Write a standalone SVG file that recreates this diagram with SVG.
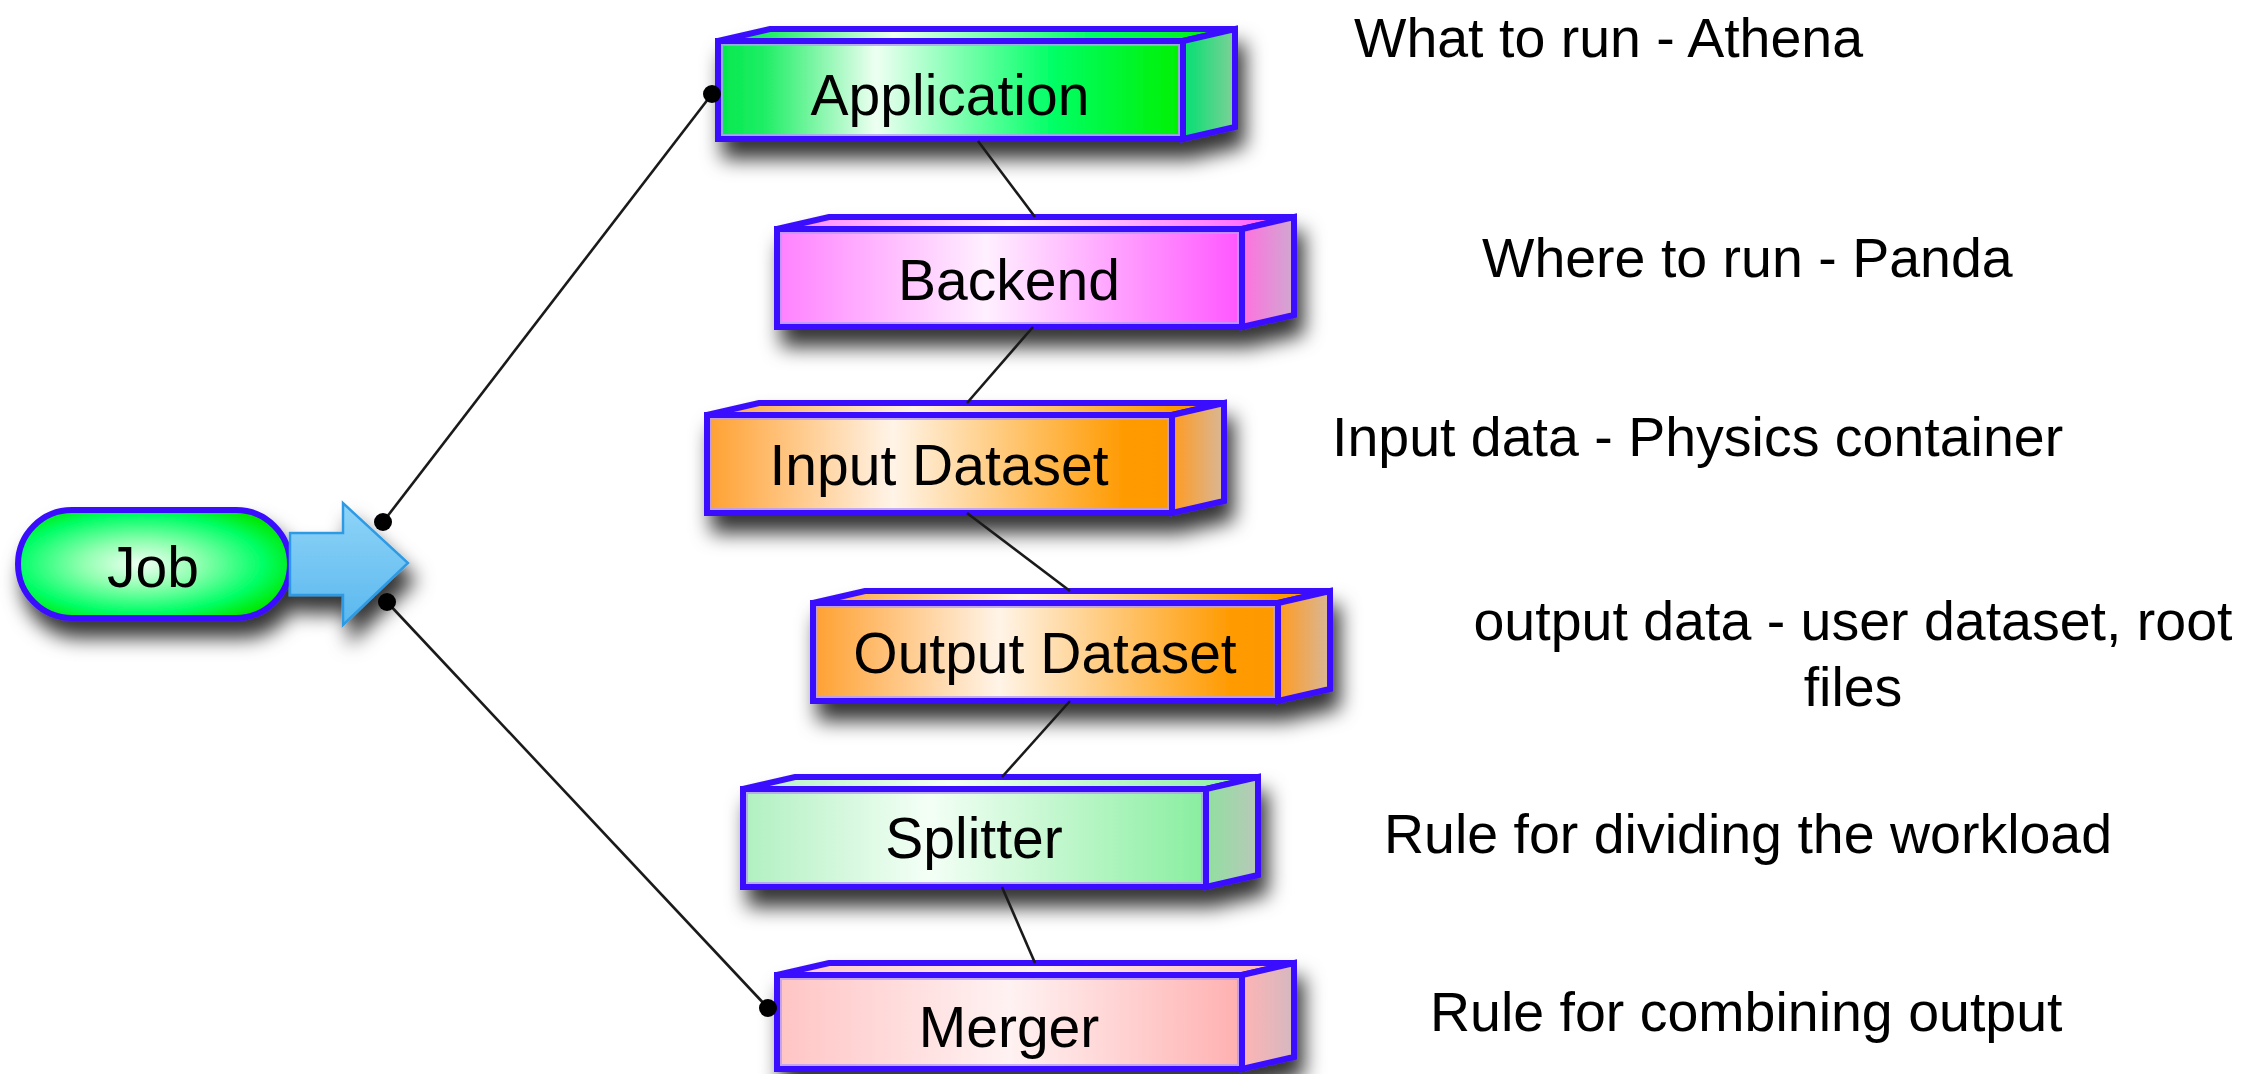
<svg xmlns="http://www.w3.org/2000/svg" width="2257" height="1074" viewBox="0 0 2257 1074">
<style>
.edge{stroke:#3a0cff;stroke-width:6;stroke-linejoin:miter}
.hl{fill:none;stroke:#b49cff;stroke-width:2;opacity:.8}
.lbl{font-family:"Liberation Sans",Arial,sans-serif;font-size:57px;fill:#000;text-anchor:middle}
.note{font-family:"Liberation Sans",Arial,sans-serif;font-size:55.5px;fill:#000}
.wire{stroke:#1a1a1a;stroke-width:2.6;fill:none}
.dot{fill:#000}
</style>
<defs>
<filter id="sh" x="-10%" y="-25%" width="130%" height="190%">
<feDropShadow dx="7" dy="17" stdDeviation="10" flood-color="#000" flood-opacity="0.8"/>
</filter>
<linearGradient id="gF" x1="0" y1="0" x2="1" y2="0">
<stop offset="0" stop-color="#00e84a"/><stop offset="0.1" stop-color="#20ee66"/><stop offset="0.34" stop-color="#eefff2"/><stop offset="0.72" stop-color="#00ff66"/><stop offset="1" stop-color="#00f000"/>
</linearGradient>
<linearGradient id="gS" x1="0" y1="0" x2="1" y2="0"><stop offset="0" stop-color="#00e070"/><stop offset="1" stop-color="#80d098"/></linearGradient>
<linearGradient id="mF" x1="0" y1="0" x2="1" y2="0">
<stop offset="0" stop-color="#ff80ff"/><stop offset="0.45" stop-color="#fff0ff"/><stop offset="1" stop-color="#ff55ff"/>
</linearGradient>
<linearGradient id="mS" x1="0" y1="0" x2="1" y2="0"><stop offset="0" stop-color="#ff70e0"/><stop offset="1" stop-color="#d0a8d0"/></linearGradient>
<linearGradient id="oF" x1="0" y1="0" x2="1" y2="0">
<stop offset="0" stop-color="#ffa030"/><stop offset="0.4" stop-color="#fff4e8"/><stop offset="0.9" stop-color="#ff9a00"/><stop offset="1" stop-color="#ff9900"/>
</linearGradient>
<linearGradient id="oS" x1="0" y1="0" x2="1" y2="0"><stop offset="0" stop-color="#ff9a20"/><stop offset="1" stop-color="#d8b898"/></linearGradient>
<linearGradient id="sF" x1="0" y1="0" x2="1" y2="0">
<stop offset="0" stop-color="#b0f0c0"/><stop offset="0.4" stop-color="#f4fff6"/><stop offset="1" stop-color="#88ee9f"/>
</linearGradient>
<linearGradient id="sS" x1="0" y1="0" x2="1" y2="0"><stop offset="0" stop-color="#90e0a0"/><stop offset="1" stop-color="#b8c8b8"/></linearGradient>
<linearGradient id="pF" x1="0" y1="0" x2="1" y2="0">
<stop offset="0" stop-color="#ffc4c4"/><stop offset="0.5" stop-color="#fff2f2"/><stop offset="1" stop-color="#ffb0b0"/>
</linearGradient>
<linearGradient id="pS" x1="0" y1="0" x2="1" y2="0"><stop offset="0" stop-color="#ffb4b4"/><stop offset="1" stop-color="#d4b8c0"/></linearGradient>
<radialGradient id="jobF" cx="0.45" cy="0.5" r="0.6">
<stop offset="0" stop-color="#f2fff4"/><stop offset="0.35" stop-color="#90ffb0"/><stop offset="0.75" stop-color="#00ff66"/><stop offset="1" stop-color="#00e800"/>
</radialGradient>
<linearGradient id="arF" x1="0" y1="0" x2="0" y2="1"><stop offset="0" stop-color="#8fd4f8"/><stop offset="1" stop-color="#5ab8ee"/></linearGradient>
</defs>
<rect width="2257" height="1074" fill="#fff"/>

<g id="job">
<g filter="url(#sh)">
<rect x="18" y="510" width="272" height="108" rx="54" fill="url(#jobF)" class="edge"/>
<polygon points="290,533 343,533 343,503 408,563 343,625 343,595 290,595" fill="url(#arF)" stroke="#2f9ae4" stroke-width="2.5"/>
</g>
<text class="lbl" x="153" y="587">Job</text>
</g>

<g id="application">
<g filter="url(#sh)">
<polygon points="718,41 770,29 1235,29 1183,41" fill="url(#gF)" class="edge"/>
<polygon points="1183,41 1235,29 1235,127 1183,139" fill="url(#gS)" class="edge"/>
<rect x="718" y="41" width="465" height="98" fill="url(#gF)" class="edge"/>
</g>
<rect x="722" y="45" width="457" height="90" class="hl"/>
<text class="lbl" x="950" y="115">Application</text>
</g>

<g id="backend">
<g filter="url(#sh)">
<polygon points="777,229 829,217 1294,217 1242,229" fill="url(#mF)" class="edge"/>
<polygon points="1242,229 1294,217 1294,315 1242,327" fill="url(#mS)" class="edge"/>
<rect x="777" y="229" width="465" height="98" fill="url(#mF)" class="edge"/>
</g>
<rect x="781" y="233" width="457" height="90" class="hl"/>
<text class="lbl" x="1009" y="300">Backend</text>
</g>

<g id="input-dataset">
<g filter="url(#sh)">
<polygon points="707,415 759,403 1224,403 1172,415" fill="url(#oF)" class="edge"/>
<polygon points="1172,415 1224,403 1224,501 1172,513" fill="url(#oS)" class="edge"/>
<rect x="707" y="415" width="465" height="98" fill="url(#oF)" class="edge"/>
</g>
<rect x="711" y="419" width="457" height="90" class="hl"/>
<text class="lbl" x="939" y="485">Input Dataset</text>
</g>

<g id="output-dataset">
<g filter="url(#sh)">
<polygon points="813,603 865,591 1330,591 1278,603" fill="url(#oF)" class="edge"/>
<polygon points="1278,603 1330,591 1330,689 1278,701" fill="url(#oS)" class="edge"/>
<rect x="813" y="603" width="465" height="98" fill="url(#oF)" class="edge"/>
</g>
<rect x="817" y="607" width="457" height="90" class="hl"/>
<text class="lbl" x="1045" y="673">Output Dataset</text>
</g>

<g id="splitter">
<g filter="url(#sh)">
<polygon points="743,789 795,777 1258,777 1206,789" fill="url(#sF)" class="edge"/>
<polygon points="1206,789 1258,777 1258,875 1206,887" fill="url(#sS)" class="edge"/>
<rect x="743" y="789" width="463" height="98" fill="url(#sF)" class="edge"/>
</g>
<rect x="747" y="793" width="455" height="90" class="hl"/>
<text class="lbl" x="974" y="858">Splitter</text>
</g>

<g id="merger">
<g filter="url(#sh)">
<polygon points="777,975 829,963 1294,963 1242,975" fill="url(#pF)" class="edge"/>
<polygon points="1242,975 1294,963 1294,1057 1242,1069" fill="url(#pS)" class="edge"/>
<rect x="777" y="975" width="465" height="94" fill="url(#pF)" class="edge"/>
</g>
<rect x="781" y="979" width="457" height="86" class="hl"/>
<text class="lbl" x="1009" y="1047">Merger</text>
</g>

<g id="connectors">
<line class="wire" x1="383" y1="522" x2="712" y2="94"/>
<line class="wire" x1="387" y1="602" x2="768" y2="1008"/>
<line class="wire" x1="978" y1="141" x2="1035" y2="217"/>
<line class="wire" x1="1033" y1="327" x2="967" y2="403"/>
<line class="wire" x1="967" y1="513" x2="1070" y2="591"/>
<line class="wire" x1="1070" y1="701" x2="1002" y2="777"/>
<line class="wire" x1="1002" y1="887" x2="1035" y2="963"/>
<circle class="dot" cx="383" cy="522" r="9"/>
<circle class="dot" cx="712" cy="94" r="9"/>
<circle class="dot" cx="387" cy="602" r="9"/>
<circle class="dot" cx="768" cy="1008" r="9"/>
</g>

<g id="notes">
<text class="note" x="1354" y="57">What to run - Athena</text>
<text class="note" x="1482" y="277">Where to run - Panda</text>
<text class="note" x="1332" y="456">Input data - Physics container</text>
<text class="note" x="1853" y="640" text-anchor="middle">output data - user dataset, root</text>
<text class="note" x="1853" y="706" text-anchor="middle">files</text>
<text class="note" x="1384" y="853">Rule for dividing the workload</text>
<text class="note" x="1430" y="1031">Rule for combining output</text>
</g>
</svg>
